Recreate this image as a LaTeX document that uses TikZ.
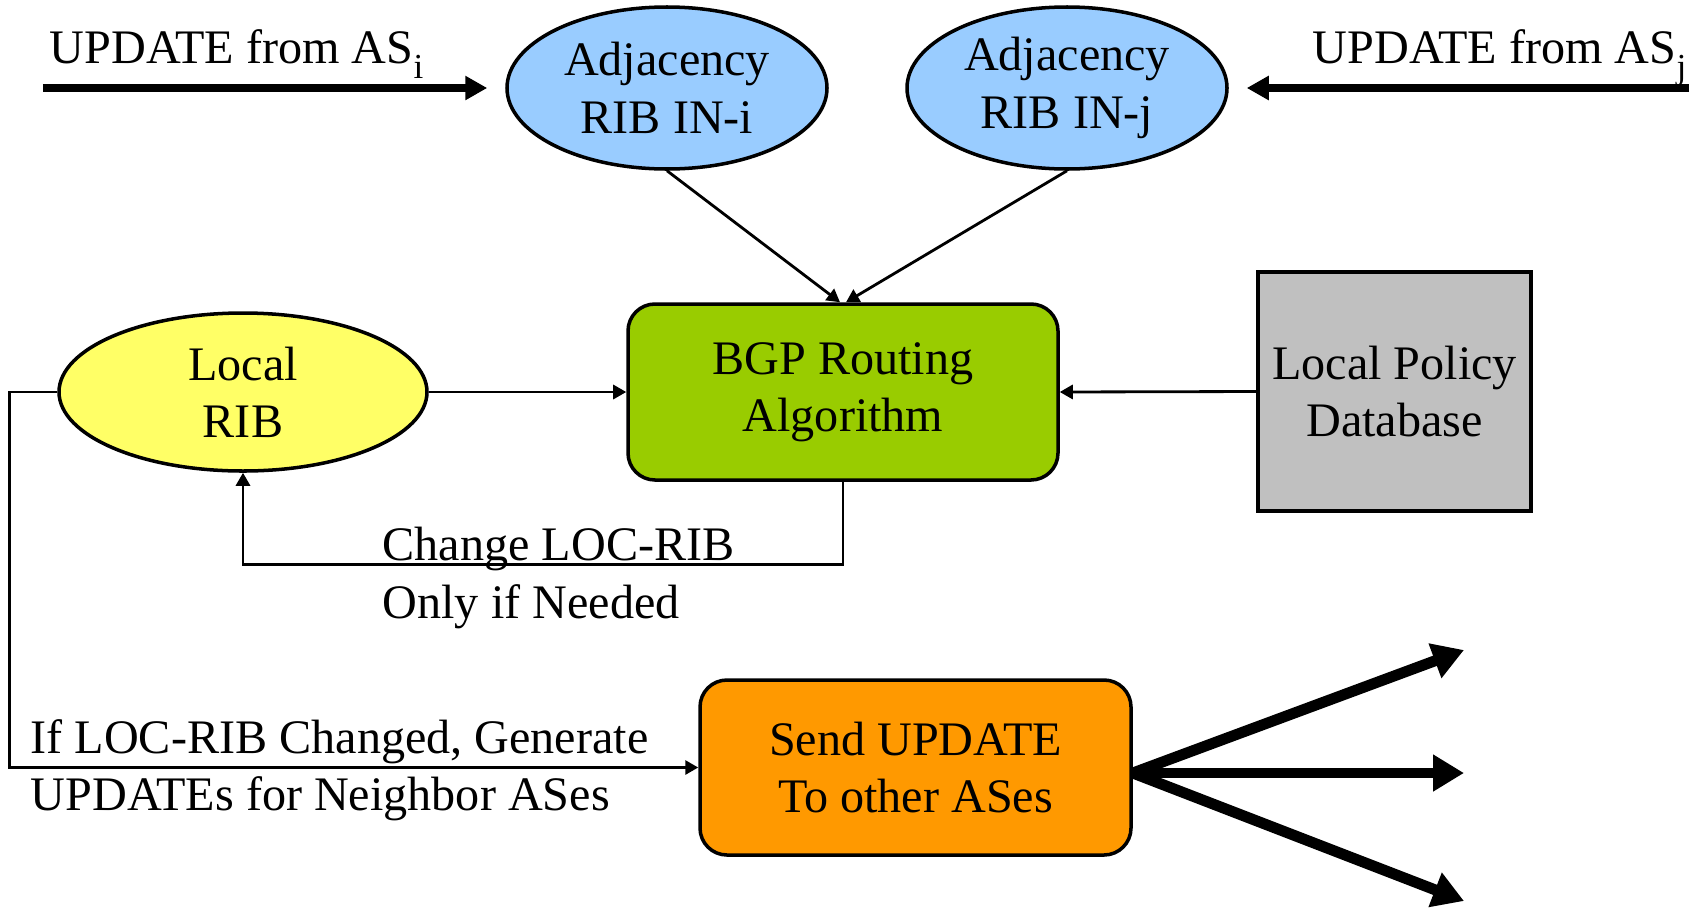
\documentclass[tikz,border=0pt]{standalone}
\usepackage{fontspec}
\setmainfont{Liberation Serif}
\usetikzlibrary{arrows.meta,shapes.geometric}
\definecolor{adjblue}{RGB}{153,204,255}
\definecolor{locyellow}{RGB}{255,255,102}
\definecolor{bgpgreen}{RGB}{153,204,0}
\definecolor{sendorange}{RGB}{255,153,0}
\definecolor{policygray}{RGB}{192,192,192}
\newcommand{\lowsub}[1]{\raisebox{-4.3pt}{\fontsize{10}{10}\selectfont #1}}
\begin{document}
\begin{tikzpicture}[>={Triangle[length=3.7pt,width=4pt]},
  font=\fontsize{13.7}{16.3}\selectfont,
  ribnode/.style={ellipse,draw,line width=1pt,inner sep=0pt,align=center},
  boxnode/.style={rounded corners=0.27cm,draw,line width=1pt,inner sep=0pt,align=center},
  textlabel/.style={inner sep=0pt,align=left},
  flow/.style={line width=0.8pt,->},
  bigflow/.style={line width=2.5pt,-{Triangle[length=0.22cm,width=0.23cm]}},
  fanflow/.style={line width=3.1pt,-{Triangle[length=0.31cm,width=0.35cm]}}]
\useasboundingbox (0,0) rectangle (16.98,9.08);
% nodes
\node[ribnode,fill=adjblue,minimum width=3.2cm,minimum height=1.62cm] (adji) at (6.67,8.20) {Adjacency\\RIB IN-i};
\node[ribnode,fill=adjblue,minimum width=3.2cm,minimum height=1.62cm] (adjj) at (10.67,8.20) {Adjacency\\RIB IN-j};
\node[boxnode,fill=bgpgreen,minimum width=4.3cm,minimum height=1.76cm] (bgp) at (8.43,5.16) {BGP Routing\\Algorithm};
\node[ribnode,fill=locyellow,minimum width=3.68cm,minimum height=1.58cm] (locrib) at (2.43,5.16) {Local\\RIB};
\node[draw,line width=1pt,fill=policygray,minimum width=2.73cm,minimum height=2.39cm,inner sep=0pt,align=center] (policy) at (13.945,5.165) {Local Policy\\Database};
\node[boxnode,fill=sendorange,minimum width=4.31cm,minimum height=1.75cm] (send) at (9.155,1.405) {Send UPDATE\\To other ASes};
% labels
\node[textlabel,anchor=base west] (fromi) at (0.49,8.45) {UPDATE from AS\lowsub{i}};
\node[textlabel,anchor=base east] (fromj) at (16.87,8.45) {UPDATE from AS\lowsub{j}};
\node[textlabel,anchor=west] (changelbl) at (3.82,3.30) {Change LOC-RIB\\Only if Needed};
\node[textlabel,anchor=west] (genlbl) at (0.30,1.375) {If LOC-RIB Changed, Generate\\UPDATEs for Neighbor ASes};
% incoming updates
\coordinate (ini) at (0.43,8.20);
\coordinate (inj) at (16.89,8.20);
\draw[bigflow,shorten >=0.18cm] (ini) -- (adji.west);
\draw[bigflow,shorten >=0.18cm] (inj) -- (adjj.east);
% connectors
\draw[flow] (adji.south) -- ([xshift=-0.03cm]bgp.north);
\draw[flow] (adjj.south) -- ([xshift=0.03cm]bgp.north);
\draw[flow] (locrib.east) -- (bgp.west);
\draw[flow] (policy.west) -- (bgp.east);
\draw[flow] (bgp.south) -- ++(0,-0.83) -| (locrib.south);
\draw[flow] (locrib.west) -- ++(-0.48,0) |- (send.west);
% outgoing updates
\foreach \y [count=\k] in {2.58,1.35,0.07}
{
    \coordinate (out\k) at (14.64,\y);
    \draw[fanflow] ([yshift=-0.055cm]send.east) -- (out\k);
}
\end{tikzpicture}
\end{document}
